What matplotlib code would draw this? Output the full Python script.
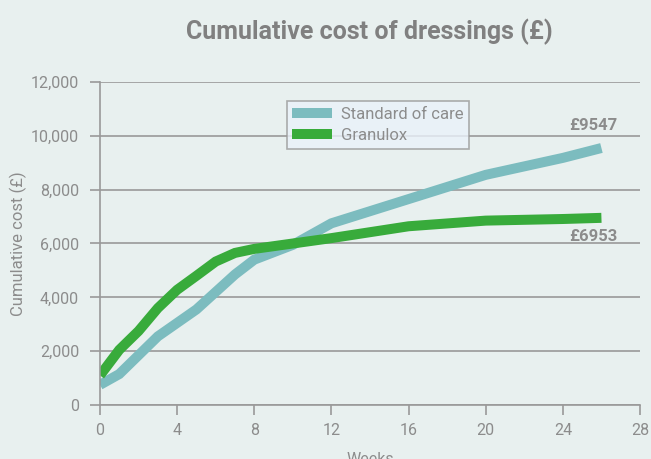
import matplotlib
matplotlib.use("Agg")
import matplotlib.pyplot as plt

weeks_std = [0, 1, 2, 3, 4, 5, 6, 7, 8, 10, 12, 16, 20, 24, 26]
standard = [750, 1150, 1850, 2550, 3050, 3550, 4200, 4850, 5400, 5950, 6750, 7650, 8550, 9180, 9547]
weeks_gran = [0, 1, 2, 3, 4, 5, 6, 7, 8, 10, 12, 16, 20, 24, 26]
granulox = [1100, 2050, 2750, 3600, 4280, 4800, 5330, 5650, 5800, 6000, 6200, 6640, 6850, 6910, 6953]
yticks = [0, 2000, 4000, 6000, 8000, 10000, 12000]
xticks = [0, 4, 8, 12, 16, 20, 24, 28]

plt.rcParams['font.family'] = ['Roboto', 'DejaVu Sans']
bg = '#E8F0EF'
gray = '#8C8C8C'
fig = plt.figure(figsize=(6.51, 4.59), dpi=100, facecolor=bg)
ax = fig.add_axes([0.1536, 0.1176, 0.8295, 0.7038], facecolor=bg)

ax.plot(weeks_std, standard, color='#7CBCBF', lw=7.2, label='Standard of care', solid_capstyle='butt', solid_joinstyle='miter')
ax.plot(weeks_gran, granulox, color='#38AB3B', lw=7.2, label='Granulox', solid_capstyle='butt', solid_joinstyle='miter')

ax.set_xlim(0, 28)
ax.set_ylim(0, 12000)
ax.set_xticks(xticks)
ax.set_yticks(yticks)
ax.set_yticklabels([f"{v:,}" for v in yticks])
ax.yaxis.grid(True, color='#999999', lw=1.2)
ax.set_axisbelow(True)
for s in ['top', 'right']:
    ax.spines[s].set_visible(False)
for s in ['left', 'bottom']:
    ax.spines[s].set_color('#999999')
    ax.spines[s].set_linewidth(1.2)
ax.tick_params(colors='#999999', labelcolor=gray, labelsize=11.5, length=7, width=1.2)
ax.tick_params(axis='x', pad=6)
ax.tick_params(axis='y', pad=8)

ax.set_xlabel('Weeks', color=gray, fontsize=11.5, labelpad=10)
ax.set_ylabel('Cumulative cost (£)', color=gray, fontsize=12, labelpad=3)

ax.text(25.6, standard[-1] + 550, f"£{standard[-1]}", ha='center', va='bottom', color=gray, fontsize=12, fontweight='bold')
ax.text(25.6, granulox[-1] - 400, f"£{granulox[-1]}", ha='center', va='top', color=gray, fontsize=12, fontweight='bold')

fig.text(0.567, 0.93, 'Cumulative cost of dressings (£)', ha='center', va='center', color='#808080', fontsize=18, fontweight='bold')

leg = ax.legend(loc='upper left', bbox_to_anchor=(0.33, 0.967), frameon=True, fancybox=False,
                fontsize=12, handlelength=2.4, handleheight=0.8, handletextpad=0.5, borderpad=0.35, labelspacing=0.35)
leg.get_frame().set_facecolor('#EAF2FA')
leg.get_frame().set_edgecolor('#999999')
leg.get_frame().set_linewidth(1.2)
for t in leg.get_texts():
    t.set_color(gray)

fig.savefig('out.png', dpi=100, facecolor=bg)
